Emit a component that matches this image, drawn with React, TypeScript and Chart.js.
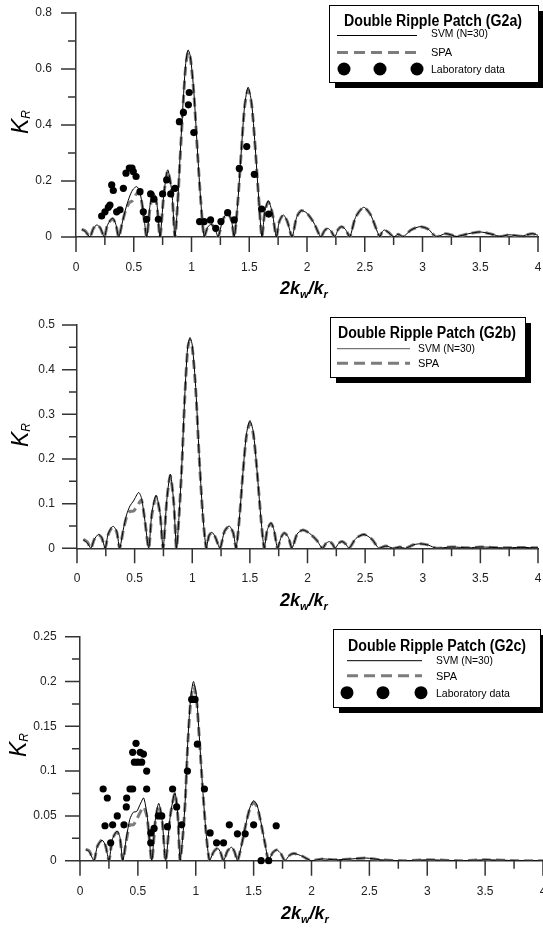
import React, { useEffect, useRef } from 'react';
import { Chart, registerables } from 'chart.js';
Chart.register(...registerables);

// ---------------- DATA ----------------
// Panel G2a
const g2aX = [0.05,0.08,0.12,0.15,0.18,0.21,0.245,0.27,0.30,0.32,0.345,0.37,0.40,0.43,0.46,0.49,0.525,0.55,0.58,0.612,0.64,0.67,0.70,0.727,0.76,0.794,0.83,0.857,0.88,0.90,0.93,0.95,0.97,0.99,1.02,1.05,1.08,1.11,1.14,1.17,1.20,1.23,1.27,1.31,1.345,1.37,1.40,1.43,1.46,1.49,1.52,1.55,1.58,1.61,1.635,1.665,1.70,1.735,1.76,1.795,1.83,1.87,1.91,1.95,2.0,2.06,2.12,2.15,2.18,2.21,2.24,2.27,2.30,2.335,2.37,2.42,2.49,2.55,2.63,2.65,2.67,2.71,2.75,2.79,2.83,2.9,2.98,3.05,3.12,3.2,3.3,3.4,3.5,3.6,3.68,3.75,3.85,3.95,4.0];
const g2aSVM = [0.027,0.02,0,0.03,0.043,0.033,0,0.04,0.062,0.067,0.045,0,0.05,0.1,0.14,0.168,0.18,0.165,0.1,0,0.11,0.16,0.12,0,0.15,0.24,0.16,0,0.12,0.28,0.5,0.62,0.668,0.645,0.52,0.32,0.13,0,0.035,0.045,0.033,0,0.06,0.085,0.06,0,0.12,0.3,0.47,0.535,0.48,0.33,0.15,0,0.09,0.13,0.085,0,0.055,0.079,0.055,0,0.07,0.094,0.085,0.05,0,0.022,0.031,0.02,0,0.027,0.037,0.026,0,0.07,0.106,0.08,0,0.018,0.025,0.015,0,0.01,0,0.025,0.037,0.028,0,0.012,0.002,0.012,0.018,0.01,0.002,0.008,0.003,0.012,0.006];
const g2aSPA = [0.027,0.022,0,0.03,0.043,0.032,0,0.04,0.06,0.065,0.045,0,0.05,0.095,0.122,0.13,0.155,0.16,0.095,0,0.1,0.155,0.115,0,0.15,0.235,0.16,0,0.12,0.27,0.49,0.61,0.66,0.64,0.515,0.315,0.13,0,0.035,0.045,0.033,0,0.06,0.085,0.06,0,0.12,0.3,0.465,0.525,0.475,0.33,0.15,0,0.09,0.125,0.085,0,0.055,0.079,0.055,0,0.07,0.094,0.085,0.05,0,0.022,0.031,0.02,0,0.027,0.037,0.026,0,0.07,0.106,0.08,0,0.018,0.025,0.015,0,0.01,0,0.025,0.037,0.028,0,0.012,0.002,0.012,0.018,0.01,0.002,0.008,0.003,0.012,0.006];
const g2aLabX = [0.222,0.251,0.28,0.294,0.309,0.323,0.352,0.381,0.41,0.433,0.462,0.485,0.496,0.52,0.554,0.583,0.612,0.646,0.675,0.713,0.75,0.785,0.82,0.857,0.895,0.93,0.973,0.98,1.02,1.07,1.11,1.165,1.21,1.255,1.313,1.37,1.414,1.478,1.544,1.607,1.668];
const g2aLabY = [0.075,0.09,0.106,0.114,0.186,0.166,0.09,0.097,0.174,0.228,0.246,0.246,0.234,0.216,0.162,0.09,0.063,0.154,0.135,0.063,0.154,0.204,0.154,0.174,0.412,0.445,0.472,0.516,0.373,0.055,0.055,0.061,0.031,0.055,0.087,0.061,0.245,0.323,0.224,0.1,0.082];

// Panel G2b
const g2bX = [0.055,0.09,0.12,0.15,0.186,0.215,0.244,0.27,0.30,0.317,0.345,0.37,0.40,0.43,0.46,0.49,0.535,0.56,0.59,0.622,0.65,0.686,0.72,0.747,0.78,0.81,0.84,0.863,0.885,0.91,0.935,0.96,0.98,1.0,1.03,1.06,1.09,1.122,1.145,1.17,1.2,1.24,1.28,1.32,1.355,1.38,1.41,1.44,1.47,1.50,1.53,1.56,1.595,1.625,1.65,1.683,1.71,1.74,1.77,1.80,1.835,1.865,1.91,1.96,2.02,2.08,2.13,2.16,2.19,2.215,2.24,2.27,2.30,2.33,2.36,2.42,2.49,2.56,2.62,2.68,2.75,2.8,2.85,2.92,2.98,3.05,3.12,3.25,3.4,3.5,3.7,3.85,4.0];
const g2bSVM = [0.019,0.012,0,0.02,0.031,0.024,0,0.032,0.047,0.049,0.038,0,0.04,0.075,0.095,0.106,0.125,0.112,0.06,0,0.08,0.119,0.08,0,0.11,0.166,0.1,0,0.07,0.19,0.34,0.45,0.472,0.455,0.36,0.21,0.08,0,0.028,0.036,0.025,0,0.038,0.05,0.035,0,0.07,0.17,0.255,0.286,0.26,0.18,0.07,0,0.04,0.057,0.04,0,0.024,0.034,0.024,0,0.032,0.041,0.033,0.018,0,0.011,0.015,0.01,0,0.011,0.015,0.01,0,0.022,0.031,0.02,0,0.005,0,0.003,0,0.008,0.01,0.007,0,0.003,0.001,0.003,0.001,0.002,0.001];
const g2bSPA = [0.02,0.014,0,0.02,0.03,0.023,0,0.03,0.045,0.047,0.036,0,0.038,0.07,0.083,0.083,0.1,0.108,0.06,0,0.075,0.115,0.078,0,0.11,0.162,0.1,0,0.07,0.185,0.335,0.445,0.465,0.45,0.355,0.205,0.08,0,0.028,0.035,0.025,0,0.038,0.049,0.035,0,0.07,0.17,0.25,0.28,0.255,0.18,0.07,0,0.04,0.056,0.04,0,0.024,0.034,0.024,0,0.032,0.041,0.033,0.018,0,0.011,0.015,0.01,0,0.011,0.015,0.01,0,0.022,0.031,0.02,0,0.005,0,0.003,0,0.008,0.01,0.007,0,0.003,0.001,0.003,0.001,0.002,0.001];

// Panel G2c
const g2cX = [0.05,0.08,0.12,0.15,0.19,0.22,0.25,0.28,0.32,0.345,0.37,0.40,0.43,0.46,0.49,0.52,0.55,0.58,0.62,0.65,0.68,0.71,0.74,0.78,0.82,0.845,0.865,0.89,0.91,0.93,0.955,0.98,1.005,1.03,1.06,1.09,1.12,1.155,1.19,1.215,1.24,1.275,1.31,1.335,1.36,1.40,1.44,1.47,1.50,1.53,1.56,1.60,1.63,1.665,1.70,1.735,1.77,1.81,1.85,1.92,2.0,2.1,2.2,2.35,2.47,2.6,2.8,3.0,3.3,3.5,3.8,4.0];
const g2cSVM = [0.0126,0.01,0,0.016,0.023,0.017,0,0.024,0.033,0.026,0,0.025,0.046,0.054,0.055,0.063,0.07,0.05,0,0.045,0.064,0.045,0,0.05,0.076,0.05,0,0.03,0.07,0.13,0.18,0.2,0.185,0.14,0.08,0.03,0,0.01,0.014,0.009,0,0.011,0.015,0.01,0,0.02,0.045,0.06,0.067,0.062,0.045,0.018,0,0.009,0.012,0.008,0,0.006,0.008,0.005,0,0.002,0.001,0.002,0.003,0.001,0,0.001,0,0.001,0,0];
const g2cSPA = [0.0126,0.011,0,0.016,0.023,0.017,0,0.024,0.032,0.025,0,0.022,0.04,0.04,0.046,0.054,0.06,0.048,0,0.043,0.062,0.044,0,0.05,0.075,0.05,0,0.03,0.068,0.127,0.176,0.195,0.182,0.138,0.08,0.03,0,0.01,0.014,0.009,0,0.011,0.015,0.01,0,0.02,0.045,0.059,0.065,0.06,0.044,0.018,0,0.009,0.012,0.008,0,0.006,0.008,0.005,0,0.002,0.001,0.002,0.003,0.001,0,0.001,0,0.001,0,0];
const g2cLabX = [0.20,0.216,0.236,0.265,0.282,0.322,0.38,0.40,0.403,0.432,0.455,0.455,0.47,0.484,0.50,0.52,0.533,0.548,0.576,0.576,0.611,0.611,0.64,0.677,0.706,0.755,0.80,0.835,0.878,0.928,0.965,0.98,0.994,1.014,1.075,1.124,1.18,1.24,1.29,1.36,1.427,1.5,1.565,1.63,1.695];
const g2cLabY = [0.08,0.039,0.07,0.02,0.04,0.05,0.04,0.06,0.07,0.08,0.08,0.121,0.11,0.131,0.11,0.121,0.11,0.119,0.10,0.08,0.031,0.02,0.036,0.05,0.05,0.038,0.08,0.06,0.04,0.10,0.18,0.18,0.18,0.13,0.08,0.031,0.02,0.02,0.04,0.03,0.03,0.04,0,0,0.039];

// Axis settings (tick values)
const xMax = 4;
const xStep = 0.25;
const xMajor = 0.5;

// ---------------- STYLE ----------------
const AXIS = '#333';
const FONT = "'Liberation Sans', Arial, Helvetica, sans-serif";
const SPA_GRAY = '#7c7c7c';

const pts = (xs: number[], ys: number[]) => xs.map((x, i) => ({ x, y: ys[i] }));
const isMajor = (v: number, m: number) => Math.abs(v / m - Math.round(v / m)) < 1e-6;
const fmt = (v: number) => String(Number(v.toFixed(4)));

type PanelCfg = {
  top: number; w: number; h: number; yW: number; xH: number; padTop: number; padRight: number;
  yMax: number; yStep: number; yMajor: number; yPad: number; xPad: number;
  x: number[]; svm: number[]; spa: number[]; labX?: number[]; labY?: number[];
};

const panels: PanelCfg[] = [
  { top: 0, w: 543, h: 300, yW: 76, xH: 63, padTop: 13, padRight: 5, yMax: 0.8, yStep: 0.1, yMajor: 0.2, yPad: 9, xPad: 8,
    x: g2aX, svm: g2aSVM, spa: g2aSPA, labX: g2aLabX, labY: g2aLabY },
  { top: 300, w: 543, h: 310, yW: 77, xH: 61.7, padTop: 25, padRight: 5, yMax: 0.5, yStep: 0.05, yMajor: 0.1, yPad: 7, xPad: 8,
    x: g2bX, svm: g2bSVM, spa: g2bSPA },
  { top: 610, w: 560, h: 322, yW: 80, xH: 71.3, padTop: 26.7, padRight: 17, yMax: 0.25, yStep: 0.025, yMajor: 0.05, yPad: 8.3, xPad: 9,
    x: g2cX, svm: g2cSVM, spa: g2cSPA, labX: g2cLabX, labY: g2cLabY },
];

function Panel({ cfg }: { cfg: PanelCfg }) {
  const ref = useRef<HTMLCanvasElement>(null);
  useEffect(() => {
    const tickPlugin = {
      id: 'axisTicks',
      afterDraw(chart: any) {
        const { ctx, chartArea, scales } = chart;
        const xs = scales.x, ys = scales.y;
        ctx.save();
        ctx.strokeStyle = AXIS;
        ctx.lineWidth = 1.5;
        ctx.beginPath();
        xs.ticks.forEach((t: any) => {
          const p = xs.getPixelForValue(t.value);
          const len = isMajor(t.value, xMajor) ? 15 : 8;
          ctx.moveTo(p, chartArea.bottom);
          ctx.lineTo(p, chartArea.bottom + len);
        });
        ys.ticks.forEach((t: any) => {
          const p = ys.getPixelForValue(t.value);
          const len = isMajor(t.value, cfg.yMajor) ? 15 : 8;
          ctx.moveTo(chartArea.left, p);
          ctx.lineTo(chartArea.left - len, p);
        });
        ctx.stroke();
        ctx.restore();
      },
    };
    const datasets: any[] = [
      { label: 'SVM (N=30)', data: pts(cfg.x, cfg.svm), showLine: true, borderColor: '#000', borderWidth: 1,
        pointRadius: 0, tension: 0.25, order: 1 },
      { label: 'SPA', data: pts(cfg.x, cfg.spa), showLine: true, borderColor: SPA_GRAY, borderWidth: 3,
        borderDash: [9, 5], pointRadius: 0, tension: 0.25, order: 2 },
    ];
    if (cfg.labX && cfg.labY) {
      datasets.push({ label: 'Laboratory data', data: pts(cfg.labX, cfg.labY), showLine: false,
        pointRadius: 3.6, pointBackgroundColor: '#000', pointBorderWidth: 0, order: 0, clip: false });
    }
    const chart = new Chart(ref.current!, {
      type: 'scatter',
      data: { datasets },
      plugins: [tickPlugin],
      options: {
        animation: false,
        responsive: false,
        devicePixelRatio: 1,
        layout: { padding: { top: cfg.padTop, right: cfg.padRight, left: 0, bottom: 0 } },
        plugins: { legend: { display: false }, tooltip: { enabled: false }, title: { display: false } },
        scales: {
          x: {
            type: 'linear', min: 0, max: xMax,
            afterFit: (s: any) => { s.height = cfg.xH; s.paddingLeft = 0; s.paddingRight = 0; },
            border: { display: true, color: AXIS, width: 1.5 },
            grid: { drawOnChartArea: false, drawTicks: true, tickLength: 15, tickColor: 'rgba(0,0,0,0)' },
            ticks: {
              stepSize: xStep, autoSkip: false, maxRotation: 0, padding: cfg.xPad, color: '#222',
              font: { family: FONT, size: 12 },
              callback: (v: any) => (isMajor(Number(v), xMajor) ? fmt(Number(v)) : ''),
            },
          },
          y: {
            type: 'linear', min: 0, max: cfg.yMax,
            afterFit: (s: any) => { s.width = cfg.yW; s.paddingTop = 0; s.paddingBottom = 0; },
            border: { display: true, color: AXIS, width: 1.5 },
            grid: { drawOnChartArea: false, drawTicks: true, tickLength: 15, tickColor: 'rgba(0,0,0,0)' },
            ticks: {
              stepSize: cfg.yStep, autoSkip: false, padding: cfg.yPad, color: '#222',
              font: { family: FONT, size: 12 },
              callback: (v: any) => (isMajor(Number(v), cfg.yMajor) ? fmt(Number(v)) : ''),
            },
          },
        },
      } as any,
    });
    return () => chart.destroy();
  }, []);
  return (
    <canvas ref={ref} width={cfg.w} height={cfg.h}
      style={{ position: 'absolute', left: 0, top: cfg.top, width: cfg.w, height: cfg.h }} />
  );
}

type LegendProps = {
  bx: number; by: number; bw: number; bh: number;
  title: string; tx: number; ty: number;
  lx1: number; lx2: number; labelX: number;
  solidY: number; solidBase: number; solidColor: string;
  dashY: number; dashBase: number;
  dotsY?: number; dotsBase?: number; dotsX?: number[];
};

function Legend(p: LegendProps) {
  return (
    <g>
      <rect x={p.bx + 6} y={p.by + 6} width={p.bw} height={p.bh} fill="#000" />
      <rect x={p.bx + 0.5} y={p.by + 0.5} width={p.bw} height={p.bh} fill="#fff" stroke="#000" strokeWidth={1} />
      <text x={p.tx} y={p.ty} fontFamily={FONT} fontWeight="bold" fontSize={16} fill="#000"
        textLength={178} lengthAdjust="spacingAndGlyphs">{p.title}</text>
      <line x1={p.lx1} x2={p.lx2} y1={p.solidY} y2={p.solidY} stroke={p.solidColor} strokeWidth={1} />
      <text x={p.labelX} y={p.solidBase} fontFamily={FONT} fontSize={11} fill="#000"
        textLength={57} lengthAdjust="spacingAndGlyphs">SVM (N=30)</text>
      <line x1={p.lx1} x2={p.lx2} y1={p.dashY} y2={p.dashY} stroke={SPA_GRAY} strokeWidth={3} strokeDasharray="11 6" />
      <text x={p.labelX} y={p.dashBase} fontFamily={FONT} fontSize={11} fill="#000">SPA</text>
      {p.dotsX && p.dotsY !== undefined ? (
        <g>
          {p.dotsX.map((dx, i) => <circle key={i} cx={dx} cy={p.dotsY} r={6.5} fill="#000" />)}
          <text x={p.labelX} y={p.dotsBase} fontFamily={FONT} fontSize={11} fill="#000"
            textLength={74} lengthAdjust="spacingAndGlyphs">Laboratory data</text>
        </g>
      ) : null}
    </g>
  );
}

function YTitle({ cx, cy }: { cx: number; cy: number }) {
  return (
    <text x={cx} y={cy} transform={`rotate(-90 ${cx} ${cy})`} textAnchor="middle" fontFamily={FONT}
      fontStyle="italic" fontSize={23} fill="#000">
      K<tspan fontSize={12} dy={2}>R</tspan>
    </text>
  );
}

function XTitle({ x, y }: { x: number; y: number }) {
  return (
    <text x={x} y={y} fontFamily={FONT} fontStyle="italic" fontWeight="bold" fontSize={18} fill="#000">
      2k<tspan fontSize={11} dy={4}>w</tspan><tspan dy={-4}>/k</tspan><tspan fontSize={11} dy={4}>r</tspan>
    </text>
  );
}

export default function App() {
  return (
    <div style={{ position: 'absolute', left: 0, top: 0, width: 543, height: 932, overflow: 'hidden', background: '#fff' }}>
      {panels.map((c, i) => <Panel key={i} cfg={c} />)}
      <svg width={543} height={932} style={{ position: 'absolute', left: 0, top: 0, pointerEvents: 'none' }}>
        <Legend bx={329} by={5} bw={209} bh={77} title="Double Ripple Patch (G2a)" tx={344} ty={26}
          lx1={337} lx2={417} labelX={431} solidY={35.5} solidBase={37} solidColor="#000"
          dashY={52.5} dashBase={56} dotsY={69} dotsBase={73} dotsX={[344, 380, 417]} />
        <Legend bx={330} by={317} bw={195} bh={60} title="Double Ripple Patch (G2b)" tx={338} ty={338}
          lx1={337} lx2={410} labelX={418} solidY={348.7} solidBase={352} solidColor="#555"
          dashY={363.3} dashBase={367} />
        <Legend bx={333} by={629} bw={207} bh={78} title="Double Ripple Patch (G2c)" tx={348} ty={651}
          lx1={347} lx2={422} labelX={436} solidY={660.7} solidBase={664} solidColor="#000"
          dashY={675.7} dashBase={680} dotsY={692.7} dotsBase={697} dotsX={[347, 383, 421]} />
        <YTitle cx={28} cy={122} />
        <YTitle cx={28} cy={435} />
        <YTitle cx={26} cy={745} />
        <XTitle x={280} y={294} />
        <XTitle x={280} y={606} />
        <XTitle x={281} y={919} />
      </svg>
    </div>
  );
}
